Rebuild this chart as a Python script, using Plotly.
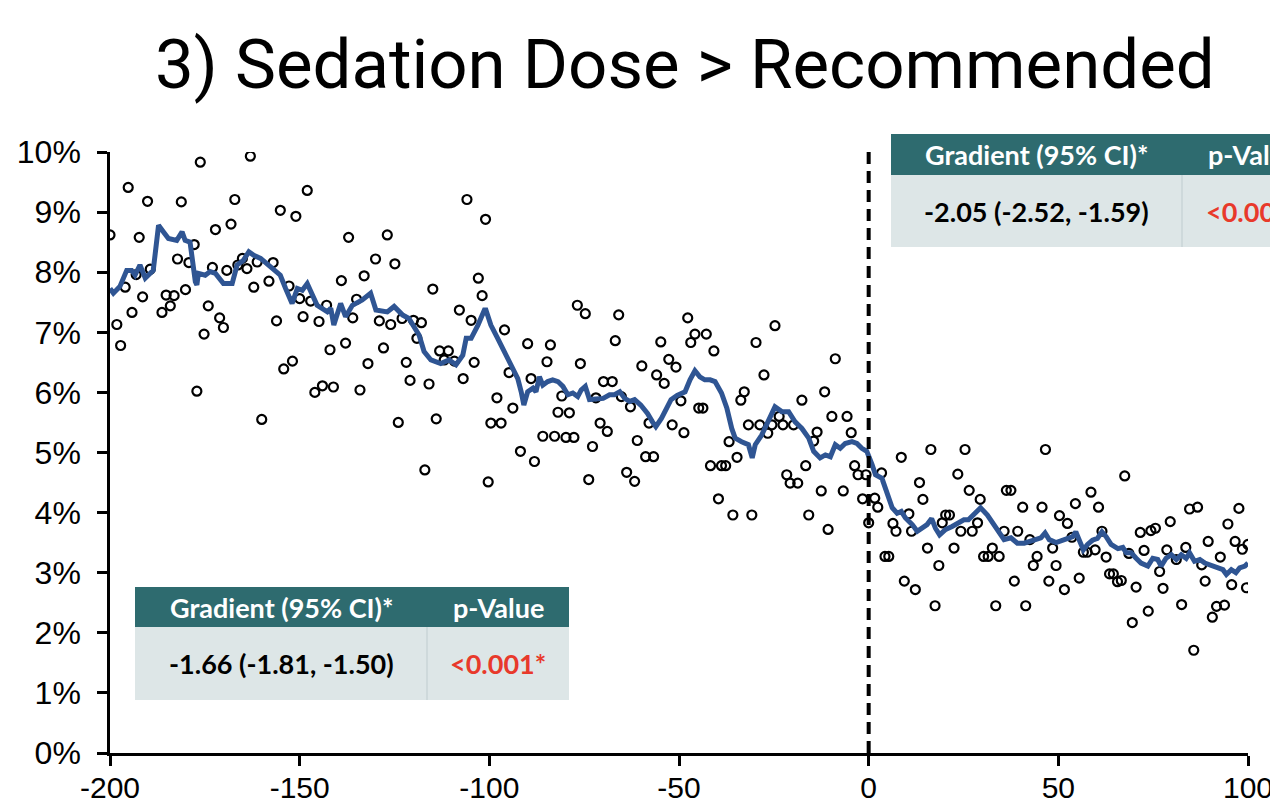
import plotly.graph_objects as go

# ---------------- data ----------------
# scatter: daily proportion (%) vs. days relative to intervention
pts_x = [
    -200, -198.2, -197.2, -196, -195.2, -194.2, -193.1, -192.3, -191.4, -190.1,
    -189.4, -186.3, -185.2, -184.1, -183.1, -182.2, -181.2, -180.1, -179.2, -177.8,
    -177.1, -176.2, -175.2, -174.1, -173, -172.2, -171.1, -170.1, -169.2, -168.1,
    -167.1, -166.3, -165.1, -163.9, -163, -162.1, -161.2, -160, -158.1, -157,
    -156.1, -155.1, -154.2, -152.8, -151.9, -151, -150, -149.1, -148, -147.1,
    -146, -144.9, -144, -142.9, -142, -141.1, -139, -137.9, -137.1, -136,
    -135, -134.1, -133, -132, -130, -129, -127.9, -126.9, -126, -124.9,
    -124, -123, -121.9, -120.9, -120, -119.1, -117.9, -117, -115.9, -114.9,
    -114, -113.1, -111.9, -110.8, -109.2, -107.9, -106.9, -105.9, -104.8, -104,
    -102.9, -101.9, -101, -100.3, -99.6, -98, -96.9, -96, -94.8, -93.8,
    -91.8, -89.9, -89, -88.1, -85.9, -84.8, -83.9, -82.8, -81.9, -80.9,
    -79.8, -78.9, -77.7, -76.8, -76, -74.7, -73.8, -72.8, -71.9, -70.8,
    -69.9, -68.9, -67.6, -66.8, -65.9, -65.2, -63.8, -62.8, -61.7, -61,
    -59.8, -58.8, -57.9, -56.7, -55.9, -54.8, -53.9, -52.7, -51.8, -50.8,
    -49.5, -48.7, -47.7, -46.9, -45.8, -44.8, -43.7, -42.8, -41.7, -40.8,
    -39.6, -38.8, -37.7, -36.8, -35.8, -34.7, -33.7, -32.8, -31.7, -30.8,
    -29.7, -28.7, -27.6, -26.6, -25.5, -24.7, -23.6, -22.6, -21.6, -20.7,
    -19.8, -18.7, -17.6, -16.6, -15.8, -14.5, -13.6, -12.5, -11.6, -10.7,
    -9.7, -8.8, -6.7, -5.7, -4.6, -3.7, -2.8, -1.6, -0.7, 0,
    1.6, 2.4, 3.4, 4.3, 5.3, 6.4, 7.2, 8.6, 9.4, 10.6,
    11.3, 12.3, 13.4, 14.3, 15.5, 16.4, 17.5, 18.5, 19.4, 20.3,
    21.3, 22.5, 23.5, 24.3, 25.4, 26.5, 27.3, 28.7, 29.4, 30.3,
    31.5, 32.6, 33.5, 34.4, 35.7, 36.3, 37.5, 38.4, 39.3, 40.6,
    41.4, 42.5, 43.4, 44.4, 45.7, 46.6, 47.5, 48.5, 49.4, 50.3,
    51.6, 52.4, 53.6, 54.5, 55.5, 56.6, 57.6, 58.6, 59.7, 60.6,
    61.5, 62.6, 63.5, 64.5, 65.6, 66.6, 67.5, 68.6, 69.5, 70.5,
    71.6, 72.6, 73.7, 74.4, 75.6, 76.7, 77.6, 78.6, 79.5, 81.1,
    82.5, 83.6, 84.6, 85.7, 86.7, 87.8, 88.7, 89.5, 90.6, 91.7,
    92.7, 93.8, 94.7, 95.7, 96.6, 97.6, 98.5, 99.6, 100,
]
pts_y = [
    8.62, 7.13, 6.78, 7.75, 9.41, 7.33, 7.96, 8.58, 7.59, 9.18,
    8.05, 7.33, 7.62, 7.44, 7.61, 8.22, 9.17, 7.71, 8.16, 8.46,
    6.02, 9.83, 6.97, 7.44, 8.08, 8.71, 7.24, 7.08, 8.03, 8.80,
    9.21, 8.12, 8.23, 8.06, 9.93, 7.75, 8.17, 5.55, 7.85, 8.16,
    7.19, 9.03, 6.39, 7.77, 6.52, 8.93, 7.56, 7.26, 9.36, 7.52,
    6.00, 7.18, 6.11, 7.45, 6.71, 6.09, 7.86, 6.82, 8.58, 7.24,
    7.55, 6.04, 7.94, 6.48, 8.22, 7.19, 6.74, 8.62, 7.13, 8.14,
    5.50, 7.23, 6.50, 6.20, 7.20, 6.90, 7.16, 4.71, 6.14, 7.72,
    5.56, 6.69, 6.54, 6.69, 6.52, 7.37, 6.23, 9.21, 7.20, 6.50,
    7.90, 7.61, 8.88, 4.51, 5.49, 5.91, 5.49, 7.04, 6.33, 5.74,
    5.02, 6.81, 6.23, 4.85, 5.27, 6.51, 6.79, 5.27, 5.67, 5.94,
    5.25, 5.66, 5.25, 7.45, 6.48, 7.31, 4.55, 5.10, 5.91, 5.49,
    6.18, 5.35, 6.18, 6.86, 7.29, 5.93, 4.67, 5.76, 4.52, 5.20,
    6.44, 4.93, 5.49, 4.93, 6.29, 6.84, 6.15, 6.55, 5.46, 6.42,
    5.86, 5.33, 7.24, 6.83, 6.97, 5.74, 5.74, 6.97, 4.78, 6.69,
    4.23, 4.78, 4.78, 5.18, 3.96, 4.92, 5.87, 6.01, 5.46, 3.96,
    6.83, 5.46, 6.29, 5.32, 5.46, 7.11, 5.60, 5.46, 4.63, 4.49,
    5.46, 4.49, 5.87, 4.78, 3.96, 5.19, 5.34, 4.36, 6.01, 3.72,
    5.60, 6.56, 4.36, 5.60, 5.33, 4.78, 4.63, 4.23, 4.63, 3.83,
    4.24, 4.09, 4.66, 3.27, 3.27, 3.82, 3.69, 4.92, 2.86, 3.98,
    3.69, 2.72, 4.50, 4.22, 3.41, 5.05, 2.45, 3.12, 3.83, 3.96,
    3.96, 3.41, 4.64, 3.69, 5.05, 4.37, 3.69, 3.83, 4.22, 3.27,
    3.27, 3.41, 2.45, 3.27, 3.69, 4.37, 4.37, 2.86, 3.69, 4.09,
    2.45, 3.55, 3.12, 3.27, 4.09, 5.05, 2.86, 3.41, 3.12, 3.95,
    2.72, 3.82, 3.59, 4.15, 2.91, 3.34, 3.34, 4.34, 3.38, 4.09,
    3.69, 3.26, 2.98, 2.98, 2.85, 2.87, 4.61, 3.32, 2.17, 2.76,
    3.67, 3.37, 2.36, 3.70, 3.74, 3.02, 2.74, 3.38, 3.85, 3.22,
    2.47, 3.42, 4.06, 1.71, 4.09, 3.13, 2.86, 3.52, 2.26, 2.44,
    3.26, 2.46, 3.81, 2.80, 3.52, 4.07, 3.39, 2.75, 3.47,
]

# moving-average line (%)
ma_x = [
    -200, -199.1, -197.4, -195.6, -194.3, -193.4, -192.1, -190.7, -188.6, -187.2,
    -185.9, -184.6, -182.4, -181, -180.2, -178.9, -177.5, -177.1, -176.7, -174.9,
    -173.6, -172.2, -170.1, -167.8, -166.5, -164.8, -163.4, -162.1, -160.3, -158.6,
    -156.8, -155.1, -153.7, -152, -150.6, -149.3, -148, -146.7, -145.4, -142.7,
    -141.8, -141, -139.2, -137.9, -136.1, -133.5, -131.3, -129.9, -126.9, -125.1,
    -122.9, -121.2, -119.4, -118.5, -117.2, -115.4, -112.8, -110.6, -108.8, -107,
    -106.1, -104.8, -103, -101.3, -100.9, -99.6, -97.8, -96, -94.3, -92.5,
    -91.6, -90.9, -89.9, -88.5, -87.7, -86.8, -85.9, -84.6, -83.3, -81.9,
    -80.6, -79.3, -78, -76.7, -75.8, -74.7, -73.6, -71.8, -70, -68.3,
    -67, -65.6, -64.3, -63, -61.7, -60.1, -58.3, -57, -56.1, -54.6,
    -53.4, -52.1, -50.5, -48.4, -47.1, -45.8, -44.5, -43.2, -41.8, -40.5,
    -38.8, -37.4, -36.1, -35.2, -33.5, -31.7, -30.7, -29.9, -28.2, -26.4,
    -24.7, -22.9, -21.1, -19.4, -17.6, -15.8, -14.5, -12.8, -11.4, -10.1,
    -8.8, -7.5, -6.2, -4.4, -3.1, -1.8, -0.5, 0.9, 1.8, 3.5,
    4.9, 6.2, 7.5, 8.6, 9.7, 11.5, 12.8, 14.6, 15.4, 16.6,
    17.6, 18.7, 20.3, 22, 23.8, 25.1, 26.3, 27.3, 29.5, 31.3,
    33.1, 34.4, 35.7, 37.5, 39.2, 41, 42.3, 44, 45.4, 46.5,
    47.6, 49.4, 50.3, 52.4, 53.8, 54.6, 55.5, 56.6, 57.7, 59,
    60.3, 61.5, 62.6, 63.9, 65.7, 67, 67.9, 69.2, 70.5, 71.8,
    73.6, 74.9, 76.2, 77.1, 78.4, 79.8, 81.1, 82.4, 83.7, 84.6,
    85.9, 87.3, 88.6, 89.9, 91.2, 92.5, 93.4, 94.3, 95.6, 96.8,
    97.8, 99.2, 100,
]
ma_y = [
    7.73, 7.65, 7.76, 8.03, 8.03, 7.95, 8.12, 7.90, 8.03, 8.78,
    8.67, 8.56, 8.53, 8.67, 8.53, 8.50, 7.84, 7.79, 7.98, 7.95,
    8.01, 7.98, 7.81, 7.81, 8.12, 8.20, 8.34, 8.28, 8.23, 8.14,
    8.03, 7.95, 7.73, 7.48, 7.73, 7.70, 7.81, 7.62, 7.45, 7.34,
    7.40, 7.12, 7.48, 7.26, 7.45, 7.54, 7.65, 7.37, 7.34, 7.43,
    7.29, 7.23, 7.06, 6.95, 6.68, 6.54, 6.48, 6.54, 6.46, 6.62,
    6.90, 6.90, 7.12, 7.37, 7.37, 7.12, 6.90, 6.68, 6.48, 6.23,
    6.01, 5.79, 6.01, 6.07, 6.01, 6.26, 6.12, 6.18, 6.21, 6.18,
    6.10, 5.96, 5.99, 5.93, 6.04, 6.10, 5.88, 5.88, 5.90, 5.96,
    5.96, 6.01, 5.90, 5.85, 5.88, 5.79, 5.65, 5.51, 5.43, 5.57,
    5.74, 5.88, 5.95, 6.01, 6.21, 6.36, 6.26, 6.21, 6.21, 6.18,
    5.99, 5.74, 5.40, 5.24, 5.18, 5.13, 4.91, 5.13, 5.29, 5.51,
    5.76, 5.68, 5.68, 5.51, 5.40, 5.24, 5.02, 4.91, 4.96, 4.93,
    5.13, 5.07, 5.15, 5.18, 5.15, 5.07, 5.02, 4.80, 4.63, 4.57,
    4.30, 4.08, 3.99, 4.02, 3.91, 3.80, 3.69, 3.77, 3.80, 3.90,
    3.74, 3.63, 3.72, 3.77, 3.83, 3.88, 3.88, 3.94, 4.08, 3.96,
    3.80, 3.66, 3.55, 3.58, 3.49, 3.49, 3.52, 3.55, 3.58, 3.66,
    3.55, 3.50, 3.52, 3.58, 3.60, 3.68, 3.55, 3.38, 3.47, 3.54,
    3.57, 3.68, 3.60, 3.47, 3.40, 3.42, 3.33, 3.33, 3.24, 3.16,
    3.11, 3.24, 3.22, 3.11, 3.24, 3.30, 3.22, 3.30, 3.24, 3.33,
    3.19, 3.22, 3.16, 3.13, 3.08, 3.05, 3.05, 2.97, 3.05, 3.00,
    3.08, 3.11, 3.16,
]

x_ticks = [-200, -150, -100, -50, 0, 50, 100]
y_ticks = [0, 1, 2, 3, 4, 5, 6, 7, 8, 9, 10]
intervention_x = 0

title_text = "3) Sedation Dose > Recommended"
table_header = ["Gradient (95% CI)*", "p-Value"]
pre_row = ["-1.66 (-1.81, -1.50)", "<0.001*"]
post_row = ["-2.05 (-2.52, -1.59)", "<0.001*"]

# ---------------- layout geometry ----------------
# the page body has an 8px margin, so the figure is sized to fit the window
OFF = 8
W, H = 1278 - OFF, 808 - OFF
PL, PR, PT, PB = 110, 1248, 152, 753          # plot edges in window pixels
ML, MR, MT, MB = PL - OFF, W - (PR - OFF), PT - OFF, H - (PB - OFF)
PW = W - ML - MR
PH = H - MT - MB


def px(x):
    return (x - OFF - ML) / PW


def py(y):
    return (H - MB - (y - OFF)) / PH


TEAL = "#2E6B6F"
BODY = "#DDE6E7"
RED = "#E8392B"
BLUE = "#2F5593"
TFONT = "Lato"
TSIZE = 27

fig = go.Figure()

fig.add_trace(go.Scatter(
    x=pts_x, y=pts_y, mode="markers",
    marker=dict(symbol="circle-open", size=9, color="black",
                line=dict(width=2.2, color="black")),
    showlegend=False, hoverinfo="skip",
))
fig.add_trace(go.Scatter(
    x=ma_x, y=ma_y, mode="lines",
    line=dict(color=BLUE, width=5),
    showlegend=False, hoverinfo="skip",
))

shapes = []
annotations = []

# dashed intervention line
shapes.append(dict(type="line", xref="x", yref="paper",
                   x0=intervention_x, x1=intervention_x, y0=0, y1=py(147),
                   line=dict(color="black", width=4, dash="12px,7px"),
                   layer="above"))


def add_table(x0, xdiv, x1, ytop, ymid, ybot, row):
    shapes.append(dict(type="rect", xref="paper", yref="paper",
                       x0=px(x0), x1=px(x1), y0=py(ymid), y1=py(ytop),
                       fillcolor=TEAL, line=dict(width=0), layer="above"))
    shapes.append(dict(type="rect", xref="paper", yref="paper",
                       x0=px(x0), x1=px(x1), y0=py(ybot), y1=py(ymid),
                       fillcolor=BODY, line=dict(width=0), layer="above"))
    shapes.append(dict(type="line", xref="paper", yref="paper",
                       x0=px(xdiv), x1=px(xdiv), y0=py(ybot), y1=py(ymid),
                       line=dict(color="#C9D5D7", width=1.5), layer="above"))
    c1 = (x0 + xdiv) / 2
    c2 = (xdiv + x1) / 2
    hy = (ytop + ymid) / 2
    by = (ymid + ybot) / 2
    for cx, txt in [(c1, table_header[0]), (c2, table_header[1])]:
        annotations.append(dict(xref="paper", yref="paper", x=px(cx), y=py(hy),
                                text="<b>%s</b>" % txt, showarrow=False,
                                xanchor="center", yanchor="middle",
                                font=dict(family=TFONT, size=TSIZE, color="white")))
    annotations.append(dict(xref="paper", yref="paper", x=px(c1), y=py(by),
                            text="<b>%s</b>" % row[0], showarrow=False,
                            xanchor="center", yanchor="middle",
                            font=dict(family=TFONT, size=TSIZE, color="black")))
    annotations.append(dict(xref="paper", yref="paper", x=px(c2), y=py(by),
                            text="<b>%s</b>" % row[1], showarrow=False,
                            xanchor="center", yanchor="middle",
                            font=dict(family=TFONT, size=TSIZE, color=RED)))


add_table(135, 427, 569, 587, 627, 700, pre_row)
add_table(891, 1182, 1325, 134, 175, 247, post_row)

annotations.append(dict(xref="paper", yref="paper", x=px(685), y=py(65),
                        text=title_text, showarrow=False,
                        xanchor="center", yanchor="middle",
                        font=dict(family="Roboto", size=69, color="black")))

fig.update_layout(
    width=W, height=H,
    margin=dict(l=ML, r=MR, t=MT, b=MB, pad=0),
    paper_bgcolor="white", plot_bgcolor="white",
    shapes=shapes, annotations=annotations,
    font=dict(family="Liberation Sans", color="black"),
    xaxis=dict(range=[-200, 100], tickvals=x_ticks,
               ticktext=[str(v) for v in x_ticks],
               showgrid=False, zeroline=False, automargin=False,
               showline=True, linecolor="black", linewidth=2.5,
               ticks="outside", ticklen=10, tickwidth=2.5, tickcolor="black",
               tickfont=dict(size=30, family="Liberation Sans"),
               ticklabelstandoff=-4),
    yaxis=dict(range=[0, 10], tickvals=y_ticks,
               ticktext=["%d%%" % v for v in y_ticks],
               showgrid=False, zeroline=False, automargin=False,
               showline=True, linecolor="black", linewidth=2.5,
               ticks="outside", ticklen=10, tickwidth=2.5, tickcolor="black",
               tickfont=dict(size=32, family="Liberation Sans"),
               ticklabelstandoff=10),
)

fig.write_html("out.html")
